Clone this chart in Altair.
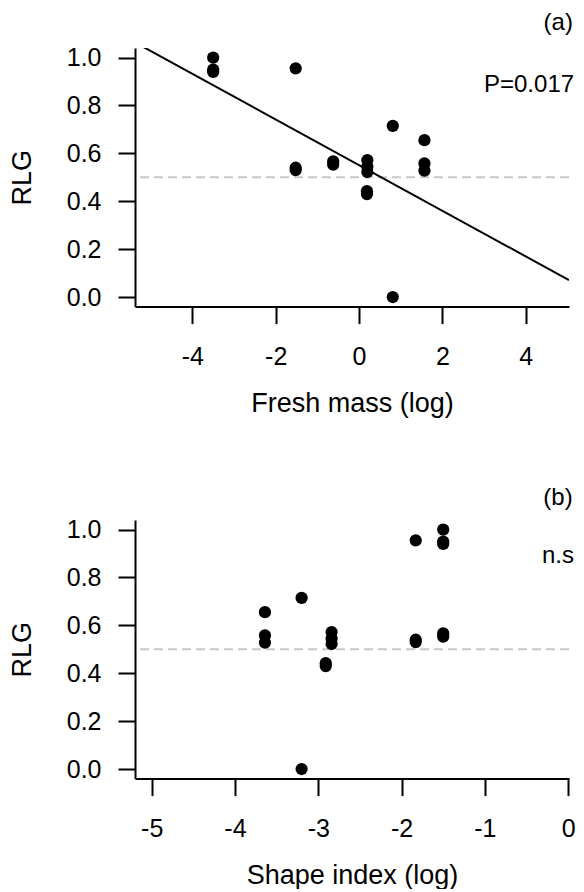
import altair as alt
import pandas as pd

# ---- data ----
rlg = [1.00, 0.95, 0.94, 0.955, 0.54, 0.53, 0.567, 0.553, 0.572, 0.545,
       0.522, 0.442, 0.43, 0.715, 0.0, 0.655, 0.558, 0.528]
fresh_mass = [-3.5, -3.5, -3.5, -1.52, -1.52, -1.52, -0.62, -0.62, 0.2, 0.2,
              0.2, 0.19, 0.19, 0.81, 0.81, 1.57, 1.57, 1.57]
shape_index = [-1.5, -1.5, -1.5, -1.83, -1.83, -1.83, -1.5, -1.5, -2.84, -2.84,
               -2.84, -2.91, -2.91, -3.2, -3.2, -3.64, -3.64, -3.64]

fm_ticks = [-4, -2, 0, 2, 4]
si_ticks = [-5, -4, -3, -2, -1, 0]
y_ticks = [0.0, 0.2, 0.4, 0.6, 0.8, 1.0]

# visible part of the x ranges (the reference is cropped at its right edge)
fm_domain = [-5.376, 5.039]
si_domain = [-5.2, 0.01]
y_domain = [-0.04, 1.04]

fit_intercept = 0.551
fit_slope = -0.0953

ref_level = [0.5]

FONT = "Liberation Sans"


def panel(xvals, xdomain, xticks, xtitle, tag, tag_xy, stat, stat_xy, fit=None):
    xenc = alt.X("x:Q", scale=alt.Scale(domain=xdomain, nice=False, zero=False),
                 axis=alt.Axis(values=xticks, title=xtitle,
                               labelExpr="datum.value + ''"))
    yenc = alt.Y("y:Q", scale=alt.Scale(domain=y_domain, nice=False, zero=False),
                 axis=alt.Axis(values=y_ticks, format=".1f", title="RLG"))

    pts_df = pd.DataFrame({"x": xvals, "y": rlg})
    ref_df = pd.DataFrame({"x": [xdomain[0]], "y": ref_level})

    ref = alt.Chart(ref_df).mark_rule(color="#c8c8c8", strokeWidth=2,
                                      strokeDash=[9, 5]).encode(y=yenc)
    layers = [ref]
    if fit is not None:
        a, b = fit
        line_df = pd.DataFrame({"x": xdomain, "y": [a + b * v for v in xdomain]})
        layers.append(alt.Chart(line_df).mark_line(color="black", strokeWidth=2,
                                                   clip=True).encode(x=xenc, y=yenc))
    layers.append(alt.Chart(pts_df).mark_circle(size=150, color="black",
                                                opacity=1).encode(x=xenc, y=yenc))
    txt_df = pd.DataFrame({"x": [tag_xy[0], stat_xy[0]],
                           "y": [tag_xy[1], stat_xy[1]],
                           "t": [tag, stat]})
    layers.append(alt.Chart(txt_df).mark_text(font=FONT, fontSize=24, color="black",
                                              align="center", baseline="alphabetic")
                  .encode(x=xenc, y=yenc, text="t:N"))
    return alt.layer(*layers).properties(width=434, height=258.6)


top = panel(fresh_mass, fm_domain, fm_ticks, "Fresh mass (log)",
            "(a)", (4.78, 1.114), "P=0.017", (4.08, 0.856),
            fit=(fit_intercept, fit_slope))
bottom = panel(shape_index, si_domain, si_ticks, "Shape index (log)",
               "(b)", (-0.122, 1.104), "n.s", (-0.122, 0.862))

chart = alt.vconcat(top, bottom, spacing=213, bounds="flush").properties(
    padding={"left": 0, "top": 3, "right": 0, "bottom": 0}
).configure_view(stroke=None).configure_axis(
    grid=False, domainColor="black", domainWidth=2, tickColor="black",
    tickWidth=2, tickSize=17, labelFont=FONT, labelFontSize=25,
    labelColor="black", titleFont=FONT, titleFontSize=27,
    titleFontWeight="normal", titleColor="black", labelOverlap=False
).configure_axisX(labelPadding=21, titlePadding=21, labelFlush=False
).configure_axisY(labelPadding=17, titlePadding=30)

chart.save("out.html", embed_options={"renderer": "svg", "actions": False})
